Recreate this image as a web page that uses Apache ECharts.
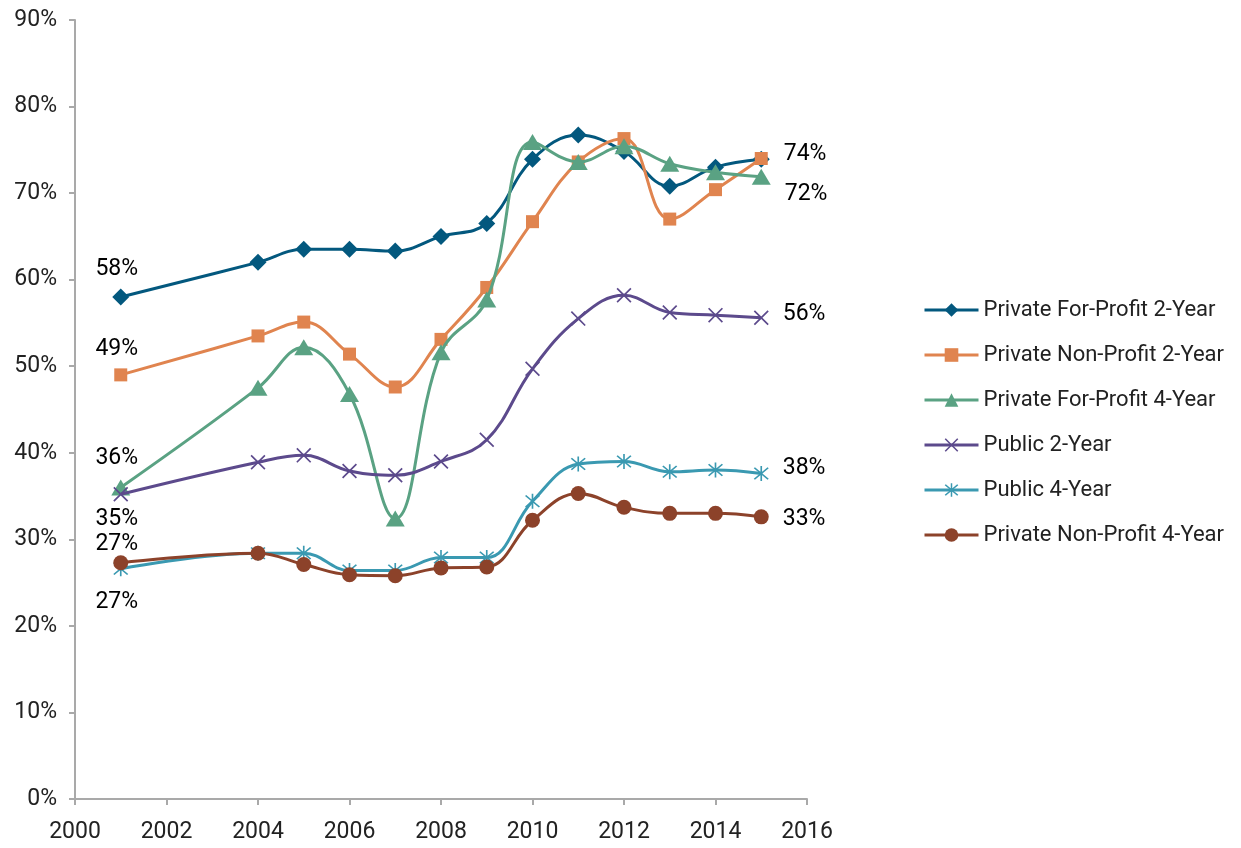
<!DOCTYPE html>
<html>
<head>
<meta charset="utf-8">
<script src="https://cdn.jsdelivr.net/npm/echarts@6/dist/echarts.min.js"></script>
<style>
html,body{margin:0;padding:0;background:#fff;}
#chart{width:1241px;height:848px;}
</style>
</head>
<body>
<div id="chart"></div>
<script>
// ---- data ----
var years = [2001, 2004, 2005, 2006, 2007, 2008, 2009, 2010, 2011, 2012, 2013, 2014, 2015];
var seriesNames = [
  'Private For-Profit 2-Year',
  'Private Non-Profit 2-Year',
  'Private For-Profit 4-Year',
  'Public 2-Year',
  'Public 4-Year',
  'Private Non-Profit 4-Year'
];
var forProfit2 =   [58.0, 62.0, 63.5, 63.5, 63.3, 65.0, 66.5, 73.9, 76.7, 74.8, 70.8, 73.0, 73.9];
var nonProfit2 =   [49.0, 53.5, 55.1, 51.4, 47.6, 53.1, 59.1, 66.7, 73.6, 76.3, 67.0, 70.4, 74.0];
var forProfit4 =   [36.0, 47.5, 52.2, 46.8, 32.4, 51.6, 57.7, 75.9, 73.6, 75.4, 73.4, 72.4, 71.9];
var public2 =      [35.2, 38.9, 39.7, 37.9, 37.4, 39.0, 41.5, 49.7, 55.5, 58.2, 56.2, 55.9, 55.6];
var public4 =      [26.6, 28.4, 28.4, 26.4, 26.4, 27.9, 27.9, 34.4, 38.7, 39.0, 37.8, 38.0, 37.6];
var nonProfit4 =   [27.3, 28.4, 27.1, 25.9, 25.8, 26.7, 26.8, 32.2, 35.3, 33.7, 33.0, 33.0, 32.6];
var xTicks = [2000, 2016, 2];
var yTicks = [0, 90, 10];

// ---- styles ----
var FONT = 'Roboto';
var colors = ['#03587E', '#E0844F', '#5AA283', '#5C4A8C', '#3A99B1', '#8C422A'];
var xPath = 'path://M0,1.6L1.6,0L10,8.4L18.4,0L20,1.6L11.6,10L20,18.4L18.4,20L10,11.6L1.6,20L0,18.4L8.4,10Z';
var starPath = 'path://M0,1.6L1.6,0L10,8.4L18.4,0L20,1.6L11.6,10L20,18.4L18.4,20L10,11.6L1.6,20L0,18.4L8.4,10Z M8.9,-2L11.1,-2L11.1,22L8.9,22Z';
var symbols = ['diamond', 'rect', 'triangle', xPath, starPath, 'circle'];
var symbolSizes = [[17, 17], [13, 13], [19, 16], [15, 15], [15, 15], [15, 15]];
var startLabels = [
  {position: 'top', distance: 8, offset: [-4, 0]},
  {position: 'top', distance: 8, offset: [-4, 0]},
  {position: 'top', distance: 10, offset: [-4, 0]},
  {position: 'bottom', distance: 6, offset: [-4, 0]},
  {position: 'bottom', distance: 14, offset: [-4, 0]},
  {position: 'top', distance: -1, offset: [-4, 0]}
];
var endLabels = [
  {position: 'right', distance: 14, offset: [0, -5]},
  null,
  {position: 'right', distance: 14, offset: [0, 18]},
  {position: 'right', distance: 14, offset: [0, -4]},
  {position: 'right', distance: 14, offset: [0, -5]},
  {position: 'right', distance: 14, offset: [0, 2]}
];
var allValues = [forProfit2, nonProfit2, forProfit4, public2, public4, nonProfit4];

function fmtPct(v) { return Math.round(v) + '%'; }

function buildData(vals, si) {
  return years.map(function (yr, i) {
    var item = {value: [yr, vals[i]]};
    var spec = null;
    if (i === 0) spec = startLabels[si];
    if (i === years.length - 1) spec = endLabels[si];
    if (spec) {
      item.label = {
        show: true,
        position: spec.position,
        distance: spec.distance,
        offset: spec.offset,
        formatter: fmtPct(vals[i]),
        fontFamily: FONT,
        fontSize: 23,
        color: '#000'
      };
    }
    return item;
  });
}

var series = seriesNames.map(function (name, si) {
  return {
    name: name,
    type: 'line',
    smooth: 0.4,
    data: buildData(allValues[si], si),
    symbol: symbols[si],
    symbolSize: symbolSizes[si],
    showAllSymbol: true,
    lineStyle: {color: colors[si], width: 3},
    itemStyle: {color: colors[si]},
    label: {show: false},
    emphasis: {disabled: true},
    z: 2 + si
  };
});

var chart = echarts.init(document.getElementById('chart'), null, {renderer: 'canvas'});
chart.setOption({
  animation: false,
  backgroundColor: '#ffffff',
  color: colors,
  grid: {left: 75, right: 434, top: 20, bottom: 49, containLabel: false},
  xAxis: {
    type: 'value',
    min: xTicks[0], max: xTicks[1], interval: xTicks[2],
    axisLine: {lineStyle: {color: '#A9A9A9', width: 2}},
    axisTick: {show: true, length: 6, lineStyle: {color: '#A9A9A9', width: 2}},
    splitLine: {show: false},
    axisLabel: {
      formatter: function (v) { return String(v); },
      fontFamily: FONT, fontSize: 23, color: '#222', margin: 22
    }
  },
  yAxis: {
    type: 'value',
    min: yTicks[0], max: yTicks[1], interval: yTicks[2],
    axisLine: {show: true, lineStyle: {color: '#A9A9A9', width: 2}},
    axisTick: {show: true, length: 6, lineStyle: {color: '#A9A9A9', width: 2}},
    splitLine: {show: false},
    axisLabel: {
      formatter: '{value}%',
      fontFamily: FONT, fontSize: 23, color: '#222', margin: 18
    }
  },
  legend: {
    orient: 'vertical',
    left: 918,
    top: 293,
    itemWidth: 54,
    itemHeight: 17,
    itemGap: 21,
    lineStyle: {width: 3},
    textStyle: {fontFamily: FONT, fontSize: 22, color: '#222', lineHeight: 24},
    data: seriesNames
  },
  series: series
});
</script>
</body>
</html>
